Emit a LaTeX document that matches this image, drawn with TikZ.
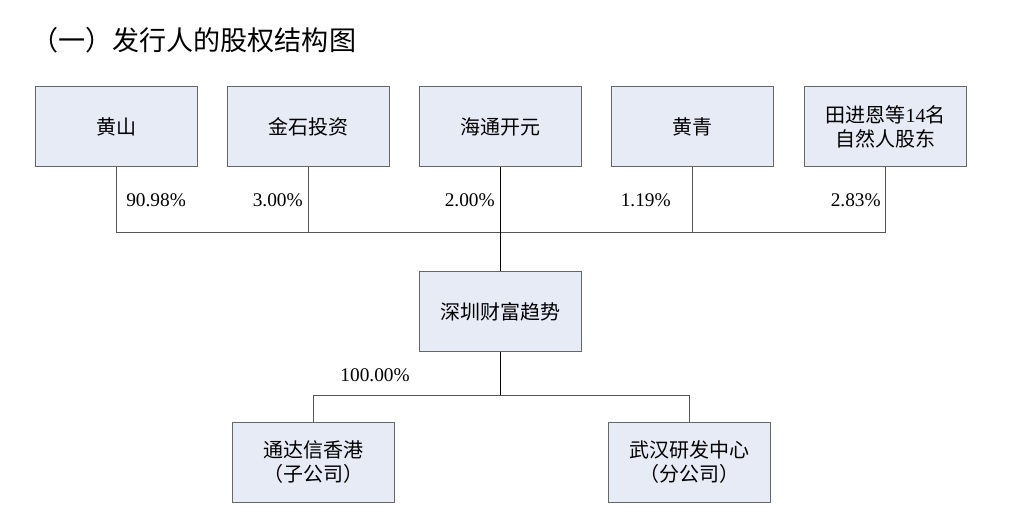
\documentclass[tikz,border=0pt]{standalone}
\usepackage{fontspec}
\setmainfont{Liberation Serif}
\newfontfamily\cjk{Noto Sans CJK SC}
\definecolor{boxfill}{HTML}{E6EBF5}
\definecolor{boxline}{HTML}{666666}
\definecolor{conn}{HTML}{555555}
\tikzset{
  entbox/.style={draw=boxline, fill=boxfill, line width=0.75pt, minimum width=121.5pt, minimum height=60pt, inner sep=0pt, align=center, font=\fontsize{15}{18}\selectfont\cjk},
  pct/.style={inner sep=0pt, font=\fontsize{14.5}{17}\selectfont},
  link/.style={draw=conn, line width=0.75pt},
  trunk/.style={draw=black, line width=0.75pt}
}
\begin{document}
\begin{tikzpicture}[x=0.75pt, y=-0.75pt]
\useasboundingbox (0,0) rectangle (1032,520);
\node[anchor=west, inner sep=0pt, font=\fontsize{20.3}{24}\selectfont\cjk] (title) at (31,40) {（一）发行人的股权结构图};
% top row
\node[entbox] (hs) at (116,127) {黄山};
\node[entbox] (js) at (308.5,127) {金石投资};
\node[entbox] (ht) at (500.5,127) {海通开元};
\node[entbox] (hq) at (692.5,127) {黄青};
\node[entbox] (tj) at (885.5,127) {田进恩等{\fontspec{Liberation Serif}14}名\\自然人股东};
% middle
\node[entbox] (sz) at (500.5,311.5) {深圳财富趋势};
% bottom
\node[entbox] (td) at (313,462) {通达信香港\\（子公司）};
\node[entbox] (wh) at (689.5,462) {武汉研发中心\\（分公司）};
% buses
\coordinate (bus) at (500.5,233);
\coordinate (bus2) at (500.5,395);
\draw[link] (hs.south) |- (bus);
\draw[link] (tj.south) |- (bus);
\draw[link] (js.south) -- (js.south |- bus);
\draw[link] (hq.south) -- (hq.south |- bus);
\draw[trunk] (ht.south) -- (sz.north);
\draw[trunk] (sz.south) -- (bus2);
\draw[link] (bus2) -| (td.north);
\draw[link] (bus2) -| (wh.north);
% percentages
\node[pct, anchor=west] (p1) at (126,200) {90.98\%};
\node[pct, anchor=east] (p2) at (303,200) {3.00\%};
\node[pct, anchor=east] (p3) at (495,200) {2.00\%};
\node[pct, anchor=east] (p4) at (671,200) {1.19\%};
\node[pct, anchor=east] (p5) at (881,200) {2.83\%};
\node[pct, anchor=east] (p6) at (410,375) {100.00\%};
\end{tikzpicture}
\end{document}
